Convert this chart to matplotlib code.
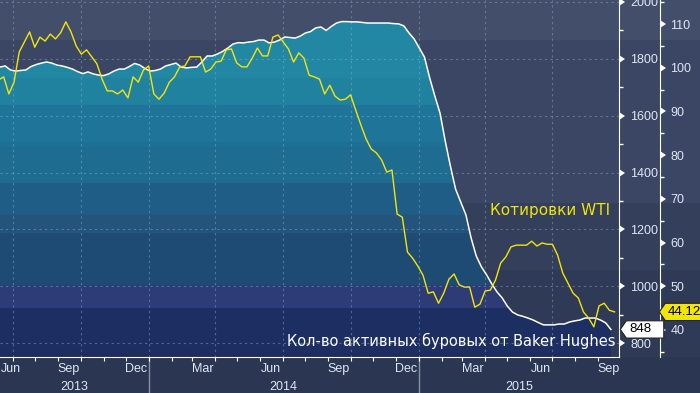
import matplotlib
matplotlib.use('Agg')
import matplotlib.pyplot as plt
import matplotlib.dates as mdates
import matplotlib.ticker as mticker
import matplotlib.transforms as mtransforms
from matplotlib.patches import Rectangle
from matplotlib.path import Path
import pandas as pd

# weekly Baker Hughes rig count
rig_dates = pd.date_range('2013-06-14', periods=119, freq='7D')
rig_count = [1771, 1775, 1761, 1757, 1759, 1761, 1773, 1780, 1785, 1789,
             1785, 1778, 1775, 1770, 1764, 1755, 1748, 1754, 1747, 1743,
             1741, 1747, 1757, 1764, 1764, 1773, 1784, 1778, 1766, 1757,
             1759, 1764, 1775, 1780, 1785, 1771, 1768, 1770, 1771, 1789,
             1810, 1810, 1817, 1826, 1838, 1852, 1857, 1856, 1859, 1861,
             1866, 1866, 1856, 1859, 1866, 1877, 1875, 1873, 1880, 1891,
             1896, 1909, 1912, 1900, 1914, 1926, 1931, 1931, 1930, 1930,
             1928, 1926, 1926, 1926, 1926, 1926, 1924, 1923, 1916, 1891,
             1870, 1838, 1806, 1733, 1669, 1609, 1511, 1423, 1342, 1296,
             1251, 1170, 1106, 1068, 1040, 1008, 980, 959, 930, 909,
             899, 894, 888, 881, 872, 864, 864, 864, 867, 867,
             874, 878, 881, 888, 888, 888, 881, 871, 848]

# weekly WTI price, $/bbl
wti_dates = pd.date_range('2013-06-12', periods=120, freq='7D')
wti_price = [97.2, 97.9, 94.0, 96.7, 103.6, 105.9, 108.2, 104.7, 107.0, 106.1,
             107.7, 106.6, 108.0, 110.5, 108.2, 105.0, 103.1, 104.1, 102.5, 100.9,
             97.4, 94.7, 94.7, 94.0, 94.9, 93.1, 97.9, 96.7, 99.5, 100.4,
             94.0, 92.8, 94.2, 96.7, 97.9, 100.2, 100.4, 102.5, 102.5, 102.5,
             99.0, 99.7, 101.3, 101.5, 104.1, 104.3, 101.1, 100.2, 100.2, 102.2,
             104.5, 102.7, 102.7, 107.0, 107.5, 105.9, 104.3, 101.3, 103.4, 102.2,
             98.3, 97.9, 97.4, 94.0, 96.0, 93.5, 92.6, 92.8, 93.8, 90.3,
             86.9, 83.7, 81.4, 80.5, 78.9, 76.1, 76.6, 66.5, 65.8, 57.8,
             56.4, 54.6, 52.5, 48.4, 48.7, 46.1, 48.4, 51.6, 52.8, 50.3,
             49.8, 49.8, 45.2, 45.9, 48.9, 49.1, 51.4, 55.3, 56.7, 59.0,
             59.4, 59.4, 59.4, 60.3, 59.2, 59.9, 59.6, 59.6, 57.1, 53.0,
             50.7, 48.4, 47.3, 44.1, 42.7, 40.7, 45.5, 46.1, 44.5, 44.12]

rig_ticks = [800, 1000, 1200, 1400, 1600, 1800, 2000]
wti_ticks = [40, 50, 60, 70, 80, 90, 100, 110]
years = ['2013', '2014', '2015']

rig_label = 'Кол-во активных буровых от Baker Hughes'
wti_label = 'Котировки WTI'

W, H = 700, 393
PLOT_H = 357
PLOT_W = 619

# horizontal colour bands (pixel rows from the top)
bg_edges = [0, 40, 203, 270, 357, 393]
bg_colors = ['#434f6a', '#3a4664', '#333f5b', '#2e3a56', '#2b3652']
fill_edges = [0, 78, 105, 142, 147, 183, 215, 233, 285, 308, 353, 357]
fill_colors = ['#2187a3', '#2182a0', '#1f7599', '#1d6f93', '#1e6d91', '#1f5d86',
               '#24537b', '#1e4b73', '#2d3b76', '#1d2f62', '#1f2a5e']

TXT = '#dfe7f4'
YEL = '#f2e50a'
TICKFONT = 'Liberation Sans'

fig = plt.figure(figsize=(W / 100, H / 100), dpi=100)

for y0, y1, c in zip(bg_edges[:-1], bg_edges[1:], bg_colors):
    fig.patches.append(Rectangle((0, 1 - y1 / H), 1, (y1 - y0) / H,
                                 transform=fig.transFigure, facecolor=c,
                                 edgecolor='none', zorder=-5))

ax = fig.add_axes([0, (H - PLOT_H) / H, PLOT_W / W, PLOT_H / H])
ax2 = ax.twinx()
ax.set_facecolor('none')

ax.set_xlim(pd.Timestamp('2013-06-14'), pd.Timestamp('2015-09-29'))
ax.set_ylim(751, 2007)
ax2.set_ylim(33.8, 115.5)

# rig count area with banded gradient
poly = ax.fill_between(rig_dates, rig_count, 600, facecolor='none', edgecolor='none')
clip = poly.get_paths()[0]
for y0, y1, c in zip(fill_edges[:-1], fill_edges[1:], fill_colors):
    r = Rectangle((0, 1 - y1 / PLOT_H), 1, (y1 - y0) / PLOT_H, transform=ax.transAxes,
                  facecolor=c, edgecolor='none', zorder=1)
    ax.add_patch(r)
    r.set_clip_path(clip, ax.transData)
ax.plot(rig_dates, rig_count, color='white', lw=1.1, zorder=3)

ax2.plot(wti_dates, wti_price, color=YEL, lw=1.0, zorder=3)

# grid
gkw = dict(color='#8fb4d8', alpha=0.45, ls=(0, (2, 3)), lw=0.8)
ax.grid(axis='y', which='major', **gkw)
ax.grid(axis='x', which='major', **gkw)

# spines
for s in ['left', 'top']:
    ax.spines[s].set_visible(False)
ax.spines['right'].set_color('white')
ax.spines['bottom'].set_color('white')
for s in ['left', 'top', 'bottom']:
    ax2.spines[s].set_visible(False)
ax2.spines['right'].set_position(('outward', 29.5))
ax2.spines['right'].set_color('white')

# rig axis (inner, right)
ax.yaxis.tick_right()
ax.yaxis.set_major_locator(mticker.FixedLocator(rig_ticks))
ax.yaxis.set_minor_locator(mticker.MultipleLocator(100))
ax.tick_params(axis='y', which='major', length=6, pad=2, colors='white',
               labelcolor=TXT, labelsize=9, labelfontfamily=TICKFONT)
ax.tick_params(axis='y', which='minor', length=3, width=1, colors='white')

# WTI axis (outer)
ax2.yaxis.set_major_locator(mticker.FixedLocator(wti_ticks))
ax2.yaxis.set_minor_locator(mticker.MultipleLocator(5))
ax2.tick_params(axis='y', which='major', length=6, pad=1.5, colors='white',
                labelcolor=TXT, labelsize=9, labelfontfamily=TICKFONT)
ax2.tick_params(axis='y', which='minor', length=3, width=1, colors='white')

for a in (ax, ax2):
    for t in a.yaxis.get_major_ticks():
        t.tick2line.set_marker(9)
        t.tick2line.set_markerfacecolor('white')
        t.tick2line.set_markeredgecolor('white')
        t.tick2line.set_markeredgewidth(0)

# x axis: month ticks, quarter grid
ax.xaxis.set_major_locator(mdates.MonthLocator(bymonth=[1, 4, 7, 10]))
ax.xaxis.set_minor_locator(mdates.MonthLocator())
ax.xaxis.set_major_formatter(mticker.NullFormatter())
ax.tick_params(axis='x', which='both', length=3, width=0.8, colors='white')

mon = ax.secondary_xaxis('bottom')
mon.xaxis.set_major_locator(mdates.MonthLocator(bymonth=[3, 6, 9, 12], bymonthday=15))
mon.xaxis.set_major_formatter(mdates.DateFormatter('%b'))
mon.tick_params(length=0, pad=4, labelsize=9, labelcolor=TXT, labelfontfamily=TICKFONT)
mon.spines['bottom'].set_visible(False)

x0, x1 = ax.get_xlim()
bounds = [x0] + [mdates.date2num(pd.Timestamp(y + '-01-01')) for y in years[1:]] + [x1]
centers = [(a + b) / 2 for a, b in zip(bounds[:-1], bounds[1:])]
yr = ax.secondary_xaxis('bottom')
yr.xaxis.set_major_locator(mticker.FixedLocator(centers))
yr.xaxis.set_major_formatter(mticker.FixedFormatter(years))
yr.tick_params(length=0, pad=17, labelsize=9, labelcolor=TXT, labelfontfamily=TICKFONT)
yr.spines['bottom'].set_visible(False)

sep = ax.secondary_xaxis('bottom')
sep.xaxis.set_major_locator(mticker.FixedLocator(bounds[1:-1]))
sep.xaxis.set_major_formatter(mticker.NullFormatter())
sep.tick_params(length=26, width=1, colors='#8791a6')
sep.spines['bottom'].set_visible(False)

# series labels
ax.text(287 / PLOT_W, 1 - 341 / PLOT_H, rig_label, transform=ax.transAxes,
        color='white', fontsize=10.5, va='center', ha='left', zorder=6)
ax.text(490 / PLOT_W, 1 - 211 / PLOT_H, wti_label, transform=ax.transAxes,
        color=YEL, fontsize=11, va='center', ha='left', zorder=6)


# last-value tags
def make_tag(extra):
    def tag(x0, y0, width, height, mutation_size):
        pad = mutation_size * 0.2
        xa, ya = x0 - pad, y0 - pad
        xb, yb = x0 + width + pad + extra, y0 + height + pad
        tip = (yb - ya) * 0.35
        return Path([(xa, ya), (xb, ya), (xb, yb), (xa, yb), (xa - tip, (ya + yb) / 2), (xa, ya)],
                    closed=True)
    return tag


trig = mtransforms.blended_transform_factory(ax.transAxes, ax.transData)
ax2.text(629 / PLOT_W, rig_count[-1], str(rig_count[-1]), transform=trig, color='black',
         fontsize=9.5, fontfamily=TICKFONT, va='center', ha='left', zorder=10, clip_on=False,
         bbox=dict(boxstyle=make_tag(10), facecolor='white', edgecolor='#222222', lw=0.8))
twti = mtransforms.blended_transform_factory(ax2.transAxes, ax2.transData)
ax2.text(668 / PLOT_W, wti_price[-1], f'{wti_price[-1]:.2f}', transform=twti, color='black',
         fontsize=9.5, fontfamily=TICKFONT, va='center', ha='left', zorder=10, clip_on=False,
         bbox=dict(boxstyle=make_tag(6), facecolor=YEL, edgecolor='#222222', lw=0.8))

# first month label sits flush with the left edge
fig.canvas.draw()
locs = mon.xaxis.get_majorticklocs()
first = min(l for l in locs if l >= x0 - 1)
for t, l in zip(mon.xaxis.get_major_ticks(len(locs)), locs):
    t.label1.set_horizontalalignment('left' if l == first else 'center')

fig.savefig('out.png', dpi=100)
